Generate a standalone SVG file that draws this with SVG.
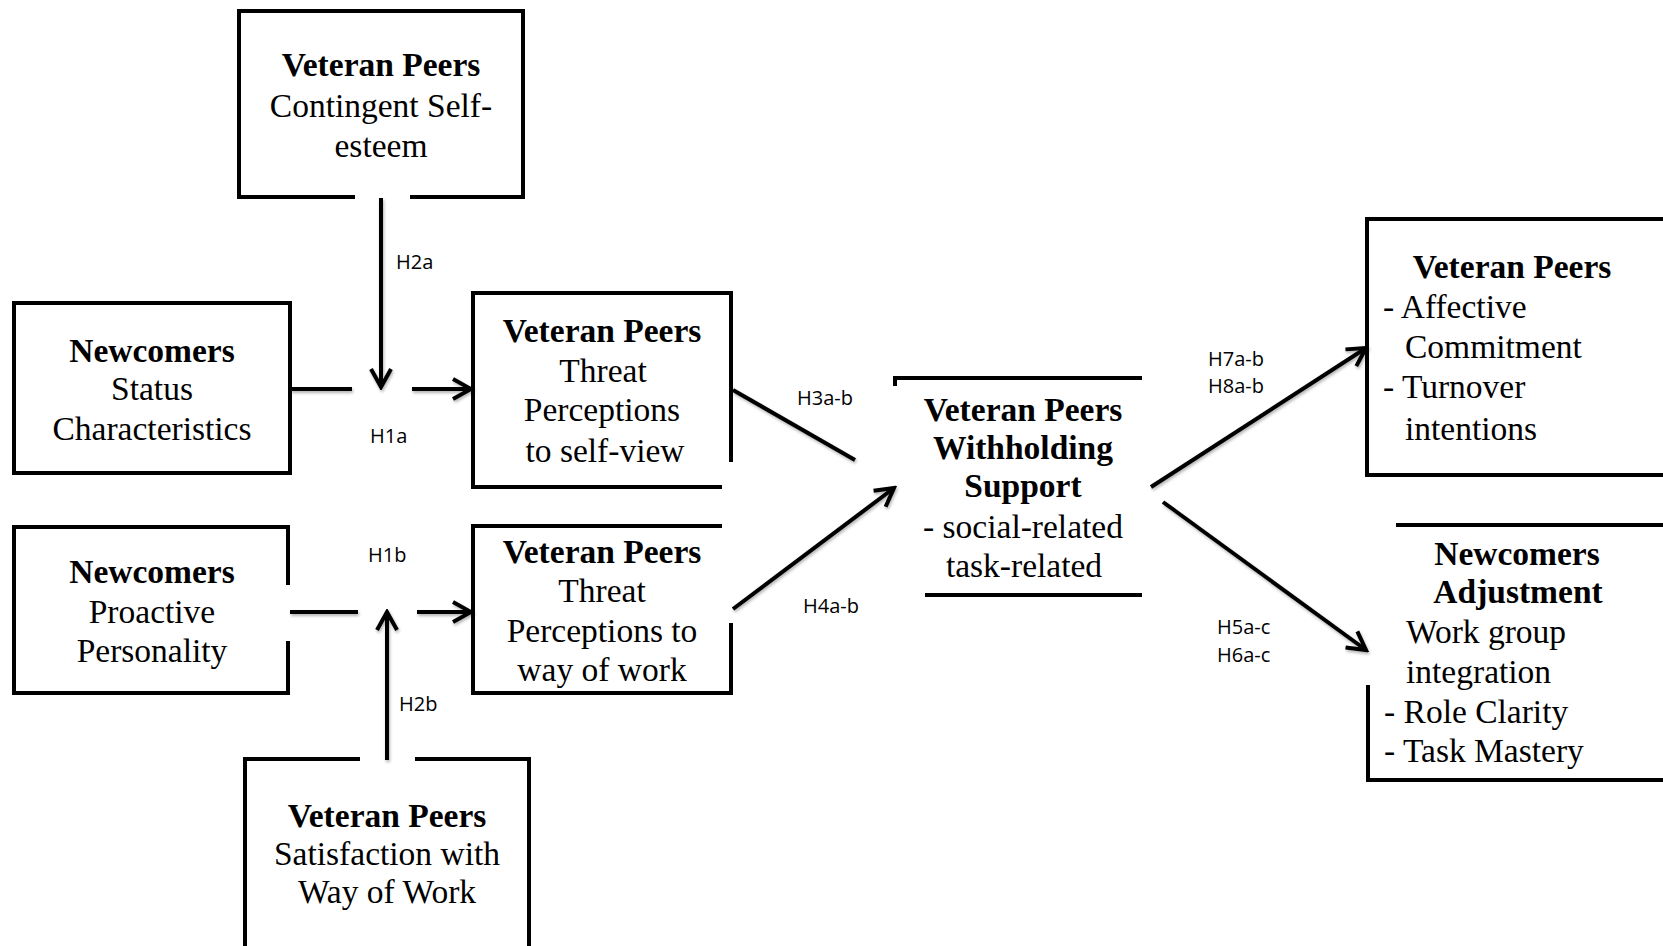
<svg xmlns="http://www.w3.org/2000/svg" width="1663" height="946" viewBox="0 0 1663 946">
<style>
.b{fill:none;stroke:#000;stroke-width:4;stroke-linecap:square;stroke-linejoin:miter}
.t{font-family:"Liberation Serif","Times New Roman",serif;font-size:33.5px;fill:#000}
.tb{font-weight:bold}
.c{text-anchor:middle}
.l{font-family:"Open Sans","Liberation Sans",sans-serif;font-size:20px;fill:#000}
.e{fill:none;stroke:#000;stroke-width:4}
</style>
<defs>
<marker id="ah" markerUnits="userSpaceOnUse" viewBox="0 0 24 24" refX="21" refY="12" markerWidth="24" markerHeight="24" orient="auto">
<path d="M3,2 L21,12 L3,22" fill="none" stroke="#000" stroke-width="4" stroke-linejoin="miter"/>
</marker>
<filter id="sh" x="-10%" y="-10%" width="120%" height="130%">
<feDropShadow dx="1" dy="2" stdDeviation="1.5" flood-color="#000" flood-opacity="0.3"/>
</filter>
</defs>
<rect width="1663" height="946" fill="#fff"/>

<g id="node-contingent">
<path class="b" d="M353,197 H239 V11 H523 V197 H412"/>
<text class="t c tb" x="381" y="76">Veteran Peers</text>
<text class="t c" x="381" y="117">Contingent Self-</text>
<text class="t c" x="381" y="157">esteem</text>
</g>

<g id="node-status">
<path class="b" d="M14,303 H290 V473 H14 Z"/>
<text class="t c tb" x="152" y="362">Newcomers</text>
<text class="t c" x="152" y="400">Status</text>
<text class="t c" x="152" y="440">Characteristics</text>
</g>

<g id="node-threat-self">
<path class="b" d="M720,487 H473 V293 H731 V460"/>
<text class="t c tb" x="602" y="342">Veteran Peers</text>
<text class="t c" x="603" y="382">Threat</text>
<text class="t c" x="602" y="421">Perceptions</text>
<text class="t c" x="605" y="462">to self-view</text>
</g>

<g id="node-proactive">
<path class="b" d="M288,583 V527 H14 V693 H288 V643"/>
<text class="t c tb" x="152" y="583">Newcomers</text>
<text class="t c" x="152" y="623">Proactive</text>
<text class="t c" x="152" y="662">Personality</text>
</g>

<g id="node-satisfaction">
<path class="b" d="M358,759 H245 V950 M417,759 H529 V950"/>
<text class="t c tb" x="387" y="827">Veteran Peers</text>
<text class="t c" x="387" y="865">Satisfaction with</text>
<text class="t c" x="387" y="903">Way of Work</text>
</g>

<g id="node-threat-work">
<path class="b" d="M720,526 H473 V693 H731 V625"/>
<text class="t c tb" x="602" y="563">Veteran Peers</text>
<text class="t c" x="602" y="602">Threat</text>
<text class="t c" x="602" y="642">Perceptions to</text>
<text class="t c" x="602" y="681">way of work</text>
</g>

<g id="node-withholding">
<path class="b" d="M895,384 V378 H1140 M927,595 H1140"/>
<text class="t c tb" x="1023" y="421">Veteran Peers</text>
<text class="t c tb" x="1023" y="459">Withholding</text>
<text class="t c tb" x="1023" y="497">Support</text>
<text class="t c" x="1023" y="538">- social-related</text>
<text class="t c" x="1024" y="577">task-related</text>
</g>

<g id="node-veteran-outcomes">
<path class="b" d="M1670,219 H1367 V475 H1670"/>
<text class="t c tb" x="1512" y="278">Veteran Peers</text>
<text class="t" x="1383" y="318">- Affective</text>
<text class="t" x="1405" y="358">Commitment</text>
<text class="t" x="1383" y="398">- Turnover</text>
<text class="t" x="1405" y="440">intentions</text>
</g>

<g id="node-newcomer-adjustment">
<path class="b" d="M1398,525 H1670 M1368,687 V780 H1670"/>
<text class="t c tb" x="1517" y="565">Newcomers</text>
<text class="t c tb" x="1518" y="603">Adjustment</text>
<text class="t" x="1406" y="643">Work group</text>
<text class="t" x="1406" y="683">integration</text>
<text class="t" x="1384" y="723">- Role Clarity</text>
<text class="t" x="1384" y="762">- Task Mastery</text>
</g>

<g id="connectors" filter="url(#sh)">
<line class="e" x1="290" y1="389" x2="352" y2="389"/>
<line class="e" x1="412" y1="389" x2="471" y2="389" marker-end="url(#ah)"/>
<line class="e" x1="381" y1="198" x2="381" y2="387" marker-end="url(#ah)"/>
<line class="e" x1="290" y1="612" x2="358" y2="612"/>
<line class="e" x1="417" y1="612" x2="471" y2="612" marker-end="url(#ah)"/>
<line class="e" x1="387" y1="760" x2="387" y2="612" marker-end="url(#ah)"/>
<line class="e" x1="733" y1="390" x2="855" y2="460"/>
<line class="e" x1="733" y1="609" x2="894" y2="488" marker-end="url(#ah)"/>
<line class="e" x1="1151" y1="487" x2="1366" y2="348" marker-end="url(#ah)"/>
<line class="e" x1="1163" y1="502" x2="1366" y2="650" marker-end="url(#ah)"/>
</g>

<g id="labels">
<text class="l" x="396" y="269">H2a</text>
<text class="l" x="370" y="443">H1a</text>
<text class="l" x="368" y="562">H1b</text>
<text class="l" x="399" y="711">H2b</text>
<text class="l" x="797" y="405">H3a-b</text>
<text class="l" x="803" y="613">H4a-b</text>
<text class="l" x="1208" y="366">H7a-b</text>
<text class="l" x="1208" y="393">H8a-b</text>
<text class="l" x="1217" y="634">H5a-c</text>
<text class="l" x="1217" y="662">H6a-c</text>
</g>
</svg>
